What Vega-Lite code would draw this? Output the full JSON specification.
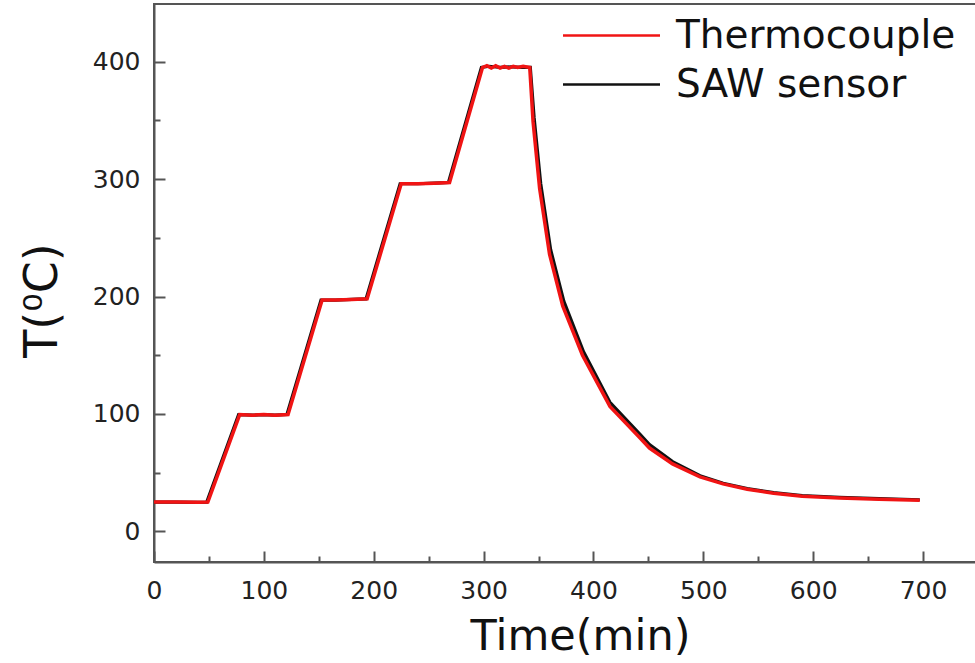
{
  "$schema": "https://vega.github.io/schema/vega-lite/v6.json",
  "autosize": "none",
  "padding": {"left": 154, "top": 4, "right": 0, "bottom": 101},
  "width": 824,
  "height": 558,
  "background": "white",
  "config": {
    "view": {"stroke": "#555", "strokeWidth": 2},
    "font": "DejaVu Sans"
  },
  "datasets": {
    "temps": [
      {"t": 0, "T": 25, "s": "SAW sensor"},
      {"t": 20, "T": 25, "s": "SAW sensor"},
      {"t": 40, "T": 24.8, "s": "SAW sensor"},
      {"t": 48, "T": 25, "s": "SAW sensor"},
      {"t": 77, "T": 99.5, "s": "SAW sensor"},
      {"t": 90, "T": 99, "s": "SAW sensor"},
      {"t": 100, "T": 99.5, "s": "SAW sensor"},
      {"t": 110, "T": 99, "s": "SAW sensor"},
      {"t": 121, "T": 99.5, "s": "SAW sensor"},
      {"t": 152, "T": 197, "s": "SAW sensor"},
      {"t": 165, "T": 197, "s": "SAW sensor"},
      {"t": 180, "T": 197.5, "s": "SAW sensor"},
      {"t": 193, "T": 198, "s": "SAW sensor"},
      {"t": 224, "T": 296, "s": "SAW sensor"},
      {"t": 240, "T": 296, "s": "SAW sensor"},
      {"t": 255, "T": 296.5, "s": "SAW sensor"},
      {"t": 268, "T": 297, "s": "SAW sensor"},
      {"t": 298, "T": 395, "s": "SAW sensor"},
      {"t": 305, "T": 396, "s": "SAW sensor"},
      {"t": 315, "T": 395, "s": "SAW sensor"},
      {"t": 325, "T": 395.5, "s": "SAW sensor"},
      {"t": 335, "T": 395, "s": "SAW sensor"},
      {"t": 342.5, "T": 395, "s": "SAW sensor"},
      {"t": 346, "T": 352, "s": "SAW sensor"},
      {"t": 352, "T": 296, "s": "SAW sensor"},
      {"t": 361, "T": 240, "s": "SAW sensor"},
      {"t": 373, "T": 196, "s": "SAW sensor"},
      {"t": 391, "T": 153, "s": "SAW sensor"},
      {"t": 415, "T": 110, "s": "SAW sensor"},
      {"t": 442, "T": 83, "s": "SAW sensor"},
      {"t": 451, "T": 74, "s": "SAW sensor"},
      {"t": 472, "T": 59.5, "s": "SAW sensor"},
      {"t": 497, "T": 47.5, "s": "SAW sensor"},
      {"t": 518, "T": 41, "s": "SAW sensor"},
      {"t": 540, "T": 36.5, "s": "SAW sensor"},
      {"t": 564, "T": 33, "s": "SAW sensor"},
      {"t": 590, "T": 30.5, "s": "SAW sensor"},
      {"t": 624, "T": 29, "s": "SAW sensor"},
      {"t": 660, "T": 28, "s": "SAW sensor"},
      {"t": 697, "T": 27, "s": "SAW sensor"},
      {"t": 0, "T": 25, "s": "Thermocouple"},
      {"t": 20, "T": 25, "s": "Thermocouple"},
      {"t": 40, "T": 24.8, "s": "Thermocouple"},
      {"t": 49, "T": 25, "s": "Thermocouple"},
      {"t": 78, "T": 99.5, "s": "Thermocouple"},
      {"t": 90, "T": 99, "s": "Thermocouple"},
      {"t": 100, "T": 99.5, "s": "Thermocouple"},
      {"t": 110, "T": 99, "s": "Thermocouple"},
      {"t": 122, "T": 99.5, "s": "Thermocouple"},
      {"t": 153, "T": 197, "s": "Thermocouple"},
      {"t": 165, "T": 197, "s": "Thermocouple"},
      {"t": 180, "T": 197.5, "s": "Thermocouple"},
      {"t": 194, "T": 198, "s": "Thermocouple"},
      {"t": 225, "T": 296, "s": "Thermocouple"},
      {"t": 240, "T": 296, "s": "Thermocouple"},
      {"t": 255, "T": 296.5, "s": "Thermocouple"},
      {"t": 269, "T": 297, "s": "Thermocouple"},
      {"t": 299, "T": 395, "s": "Thermocouple"},
      {"t": 303, "T": 396.5, "s": "Thermocouple"},
      {"t": 307, "T": 394.5, "s": "Thermocouple"},
      {"t": 311, "T": 396.5, "s": "Thermocouple"},
      {"t": 315, "T": 394.5, "s": "Thermocouple"},
      {"t": 319, "T": 396, "s": "Thermocouple"},
      {"t": 323, "T": 394.5, "s": "Thermocouple"},
      {"t": 327, "T": 396, "s": "Thermocouple"},
      {"t": 331, "T": 395, "s": "Thermocouple"},
      {"t": 336, "T": 396, "s": "Thermocouple"},
      {"t": 342, "T": 395, "s": "Thermocouple"},
      {"t": 345, "T": 349, "s": "Thermocouple"},
      {"t": 351, "T": 292, "s": "Thermocouple"},
      {"t": 360, "T": 236, "s": "Thermocouple"},
      {"t": 372, "T": 192, "s": "Thermocouple"},
      {"t": 390, "T": 150, "s": "Thermocouple"},
      {"t": 415, "T": 106.5, "s": "Thermocouple"},
      {"t": 442, "T": 80, "s": "Thermocouple"},
      {"t": 451, "T": 71, "s": "Thermocouple"},
      {"t": 472, "T": 57.5, "s": "Thermocouple"},
      {"t": 497, "T": 46.5, "s": "Thermocouple"},
      {"t": 518, "T": 40.5, "s": "Thermocouple"},
      {"t": 540, "T": 36, "s": "Thermocouple"},
      {"t": 564, "T": 32.5, "s": "Thermocouple"},
      {"t": 590, "T": 30, "s": "Thermocouple"},
      {"t": 624, "T": 28.5, "s": "Thermocouple"},
      {"t": 660, "T": 27.5, "s": "Thermocouple"},
      {"t": 697, "T": 26.5, "s": "Thermocouple"}
    ]
  },
  "data": {"name": "temps"},
  "encoding": {
    "x": {
      "field": "t",
      "type": "quantitative",
      "scale": {"domain": [0, 750], "nice": false, "zero": false},
      "axis": {
        "title": "Time(min)",
        "values": [0, 50, 100, 150, 200, 250, 300, 350, 400, 450, 500, 550, 600, 650, 700],
        "labelExpr": "datum.value % 100 === 0 ? datum.label : ''",
        "labelFlush": false,
        "grid": false,
        "domainColor": "#555",
        "domainWidth": 2,
        "tickColor": "#555",
        "tickWidth": 2,
        "tickSize": {"condition": {"test": "datum.value % 100 === 0", "value": -11}, "value": -6},
        "labelPadding": 27,
        "labelFontSize": 25,
        "labelColor": "#222",
        "labelFont": "DejaVu Sans",
        "titleFont": "DejaVu Sans",
        "titleFontSize": 43,
        "titleFontWeight": "normal",
        "titleColor": "#111",
        "titlePadding": 12,
        "titleX": 426,
        "titleAlign": "center"
      }
    },
    "y": {
      "field": "T",
      "type": "quantitative",
      "scale": {"domain": [-26, 449], "nice": false, "zero": false},
      "axis": {
        "title": "T(⁰C)",
        "values": [0, 50, 100, 150, 200, 250, 300, 350, 400],
        "labelExpr": "datum.value % 100 === 0 ? datum.label : ''",
        "grid": false,
        "domainColor": "#555",
        "domainWidth": 2,
        "tickColor": "#555",
        "tickWidth": 2,
        "tickSize": {"condition": {"test": "datum.value % 100 === 0", "value": -11}, "value": -6},
        "labelPadding": 25,
        "labelFontSize": 25,
        "labelColor": "#222",
        "labelFont": "DejaVu Sans",
        "titleFont": "DejaVu Sans",
        "titleFontSize": 46,
        "titleFontWeight": "normal",
        "titleColor": "#111",
        "titlePadding": 26,
        "titleY": 296,
        "titleAlign": "center"
      }
    },
    "color": {
      "field": "s",
      "type": "nominal",
      "scale": {"domain": ["Thermocouple", "SAW sensor"], "range": ["#f01414", "#111111"]},
      "legend": {
        "title": null,
        "orient": "none",
        "legendX": 438,
        "legendY": 12,
        "symbolType": "M-4.85,0H4.85",
        "symbolSize": 400,
        "symbolStrokeWidth": 2.5,
        "labelFontSize": 39,
        "labelFont": "DejaVu Sans",
        "labelColor": "#111",
        "labelOffset": 45,
        "rowPadding": 9,
        "labelLimit": 400
      }
    }
  },
  "layer": [
    {
      "transform": [{"filter": "datum.s === 'SAW sensor'"}],
      "mark": {"type": "line", "strokeWidth": 3.2}
    },
    {
      "transform": [{"filter": "datum.s === 'Thermocouple'"}],
      "mark": {"type": "line", "strokeWidth": 3.5}
    }
  ]
}
